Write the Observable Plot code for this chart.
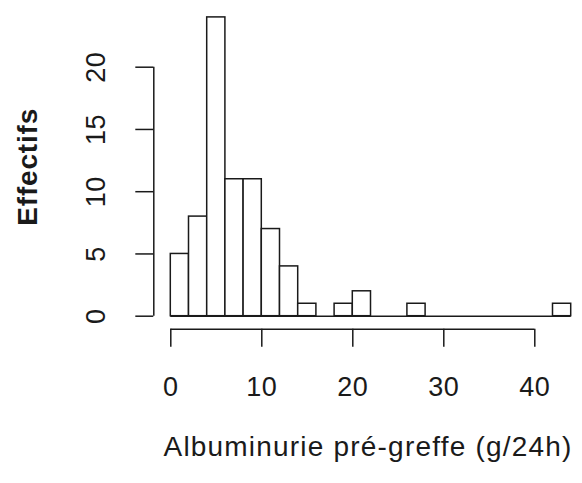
<!DOCTYPE html>
<html>
<head>
<meta charset="utf-8">
<script src="https://cdn.jsdelivr.net/npm/d3@7"></script>
<script src="https://cdn.jsdelivr.net/npm/@observablehq/plot@0.6"></script>
<style>
  html, body { margin: 0; padding: 0; background: #fff; }
  svg { display: block; }
  .tick-labels text { letter-spacing: 0.6px; }
  .x-title text { letter-spacing: 1.2px; }
  .y-title text { letter-spacing: 0.8px; }
</style>
</head>
<body>
<div id="chart"></div>
<script>
// Histogram of pre-transplant albuminuria, bins of width 2 g/24h
const binStarts = [0, 2, 4, 6, 8, 10, 12, 14, 16, 18, 20, 22, 24, 26, 28, 30, 32, 34, 36, 38, 40, 42];
const counts    = [5, 8, 24, 11, 11, 7, 4, 1, 0, 1, 2, 0, 0, 1, 0, 0, 0, 0, 0, 0, 0, 1];
const binWidth = 2;
const xTicks = [0, 10, 20, 30, 40];
const yTicks = [0, 5, 10, 15, 20];
const xTitle = "Albuminurie pré-greffe (g/24h)";
const yTitle = "Effectifs";

const bins = binStarts.map((x0, i) => ({x1: x0, x2: x0 + binWidth, n: counts[i]}));
const font = "Liberation Sans, Arial, Helvetica, sans-serif";
const ink = "#1a1a1a";

const chart = Plot.plot({
  width: 582,
  height: 483,
  marginLeft: 170.3,
  marginRight: 11.3,
  marginTop: 16.9,
  marginBottom: 167.3,
  style: {fontFamily: font, background: "#fff", color: ink},
  x: {domain: [0, 44], axis: null},
  y: {domain: [0, 24], axis: null},
  marks: [
    // bars (empty bins show only as the baseline)
    Plot.rectY(bins.filter(d => d.n > 0), {x1: "x1", x2: "x2", y: "n", fill: "white", stroke: ink, strokeWidth: 1.5}),
    Plot.ruleY([0], {x1: 0, x2: 44, stroke: ink, strokeWidth: 1.5}),
    // x axis, set below the bars
    Plot.ruleY([0], {x1: xTicks[0], x2: xTicks[xTicks.length - 1], dy: 13, stroke: ink, strokeWidth: 1.5}),
    Plot.axisX(xTicks, {anchor: "bottom", tickSize: 18, dy: 13, tickFormat: () => "", stroke: ink, strokeWidth: 1.5, label: null}),
    Plot.text(xTicks, {x: d => d, y: 0, dy: 71.5, text: d => String(d), fontSize: 27, fill: ink, textAnchor: "middle", lineAnchor: "middle", className: "tick-labels"}),
    // y axis, set left of the bars
    Plot.ruleX([0], {y1: yTicks[0], y2: yTicks[yTicks.length - 1], dx: -17, stroke: ink, strokeWidth: 1.5}),
    Plot.axisY(yTicks, {anchor: "left", tickSize: 18, dx: -17, tickFormat: () => "", stroke: ink, strokeWidth: 1.5, label: null}),
    Plot.text(yTicks, {x: 0, y: d => d, dx: -74, text: d => String(d), rotate: -90, fontSize: 27, fill: ink, textAnchor: "middle", lineAnchor: "middle", className: "tick-labels"}),
    // axis titles
    Plot.text([xTitle], {frameAnchor: "bottom", dx: -3, dy: 131.3, text: d => d, fontSize: 28, fill: ink, textAnchor: "middle", lineAnchor: "middle", className: "x-title"}),
    Plot.text([yTitle], {frameAnchor: "left", dx: -143, text: d => d, rotate: -90, fontSize: 28, fontWeight: "bold", fill: ink, textAnchor: "middle", lineAnchor: "middle", className: "y-title"})
  ]
});

document.getElementById("chart").appendChild(chart);
</script>
</body>
</html>
